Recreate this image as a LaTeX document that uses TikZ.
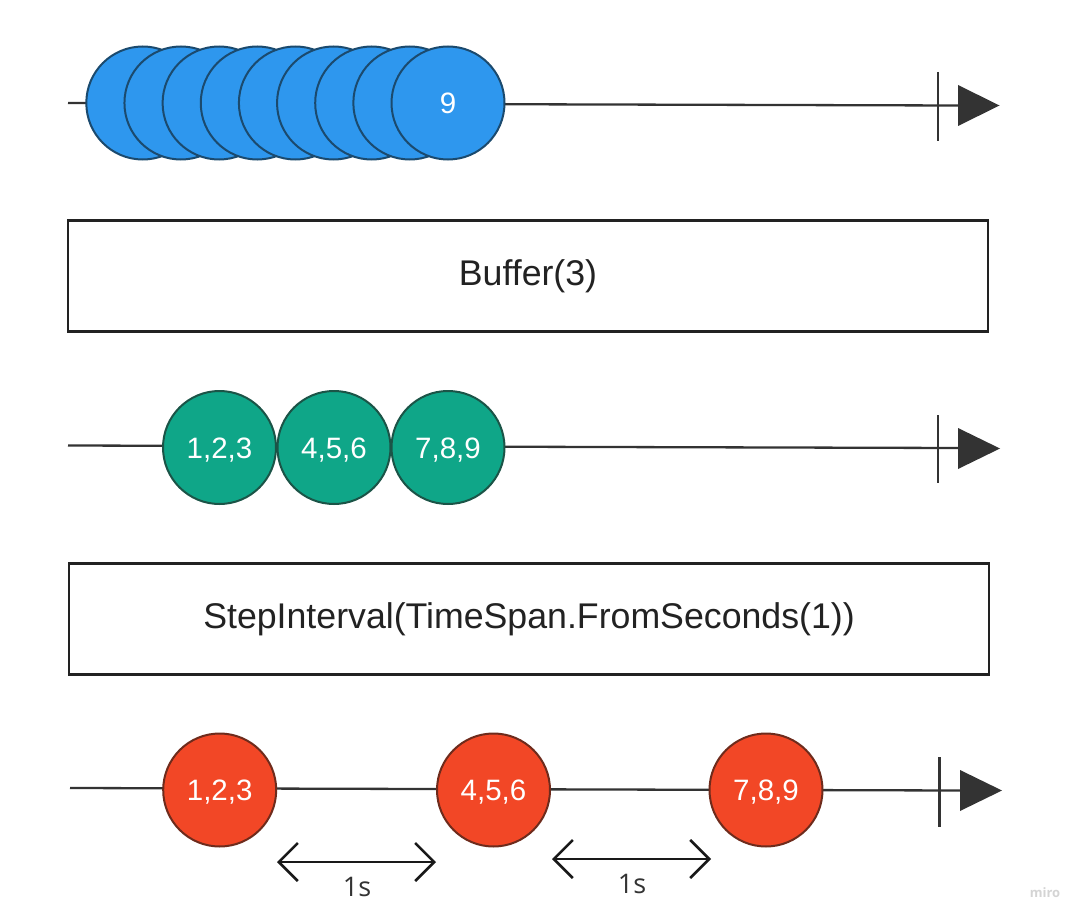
\documentclass[tikz,border=0pt]{standalone}
\usepackage{fontspec}
\setmainfont{Liberation Sans}
\newfontfamily\osans{Open Sans}
\usetikzlibrary{arrows.meta}
\definecolor{linec}{HTML}{333333}
\definecolor{boxc}{HTML}{222222}
\definecolor{bluef}{HTML}{2E97EE}
\definecolor{bluel}{HTML}{1B4A6E}
\definecolor{greenf}{HTML}{0FA688}
\definecolor{greenl}{HTML}{1B5447}
\definecolor{redf}{HTML}{F24726}
\definecolor{redl}{HTML}{6E2B1C}
\definecolor{wm}{HTML}{D4D4D4}
\tikzset{
  timeline/.style={draw=linec, line width=2.3pt},
  tickmark/.style={draw=linec, line width=2.5pt},
  headtri/.style={fill=linec, draw=none},
  marble/.style={circle, draw, line width=2pt, minimum size=113pt, inner sep=0pt,
     text=white, font=\fontsize{29.5}{32}\selectfont, text height=21.1pt, text depth=0pt},
  bluem/.style={marble, fill=bluef, draw=bluel},
  greenm/.style={marble, fill=greenf, draw=greenl},
  redm/.style={marble, fill=redf, draw=redl},
  opbox/.style={rectangle, draw=boxc, line width=2.8pt, minimum width=920pt, minimum height=111pt,
     inner sep=0pt, text=boxc, font=\fontsize{35.7}{40}\selectfont},
  dimarrow/.style={draw=black!90, line width=2.5pt,
     {Straight Barb[length=19pt,width=38pt]}-{Straight Barb[length=19pt,width=38pt]}},
  dimlabel/.style={text=linec, font=\osans\fontsize{27}{30}\selectfont, inner sep=0pt}
}
\begin{document}
\begin{tikzpicture}[x=1pt,y=-1pt]
\useasboundingbox[fill=white] (0,0) rectangle (1082,923);

% ---------- row 1 ----------
\coordinate (t1s) at (68,103);
\coordinate (t1e) at (958,105.5);
\coordinate (t1a) at (938,72);
\coordinate (t1b) at (938,141);
\coordinate (h1a) at (958,85);
\coordinate (h1b) at (999.5,105.5);
\coordinate (h1c) at (958,126);
\draw[timeline] (t1s) -- (t1e);
\draw[tickmark] (t1a) -- (t1b);
\fill[headtri] (h1a) -- (h1b) -- (h1c) -- cycle;
\foreach \i in {1,...,8} {
  \node[bluem] (b\i) at ({142.8+38.15*(\i-1)},103) {};
}
\node[bluem] (b9) at (448,103) {9};

% ---------- box 1 ----------
\node[opbox] (buf) at (528,276) {Buffer(3)};

% ---------- row 2 ----------
\coordinate (t2s) at (68,445.5);
\coordinate (t2e) at (958,448);
\coordinate (t2a) at (938,415);
\coordinate (t2b) at (938,483);
\coordinate (h2a) at (958,428);
\coordinate (h2b) at (1000,448.5);
\coordinate (h2c) at (958,469);
\draw[timeline] (t2s) -- (t2e);
\draw[tickmark] (t2a) -- (t2b);
\fill[headtri] (h2a) -- (h2b) -- (h2c) -- cycle;
\node[greenm] (g1) at (219.5,447.5) {1,2,3};
\node[greenm] (g2) at (334,447.5) {4,5,6};
\node[greenm] (g3) at (448,447.5) {7,8,9};

% ---------- box 2 ----------
\node[opbox] (step) at (529,619) {StepInterval(TimeSpan.FromSeconds(1))};

% ---------- row 3 ----------
\coordinate (t3s) at (70,788);
\coordinate (t3e) at (960,790.5);
\coordinate (t3a) at (939.5,757);
\coordinate (t3b) at (939.5,827);
\coordinate (h3a) at (960,770);
\coordinate (h3b) at (1002,790.5);
\coordinate (h3c) at (960,811);
\draw[timeline] (t3s) -- (t3e);
\draw[tickmark] (t3a) -- (t3b);
\fill[headtri] (h3a) -- (h3b) -- (h3c) -- cycle;
\node[redm] (r1) at (219.7,790) {1,2,3};
\node[redm] (r2) at (493.5,790) {4,5,6};
\node[redm] (r3) at (766,790) {7,8,9};

% ---------- interval markers ----------
\coordinate (d1a) at (277,862);
\coordinate (d1b) at (436,862);
\coordinate (d2a) at (552,859);
\coordinate (d2b) at (711,859);
\draw[dimarrow] (d1a) -- (d1b);
\draw[dimarrow] (d2a) -- (d2b);
\node[dimlabel] (l1) at (357,887) {1s};
\node[dimlabel] (l2) at (632,884) {1s};

% ---------- watermark ----------
\node[text=wm, font=\osans\bfseries\fontsize{13}{15}\selectfont, inner sep=0pt] (wmk) at (1045,893) {miro};
\end{tikzpicture}
\end{document}
